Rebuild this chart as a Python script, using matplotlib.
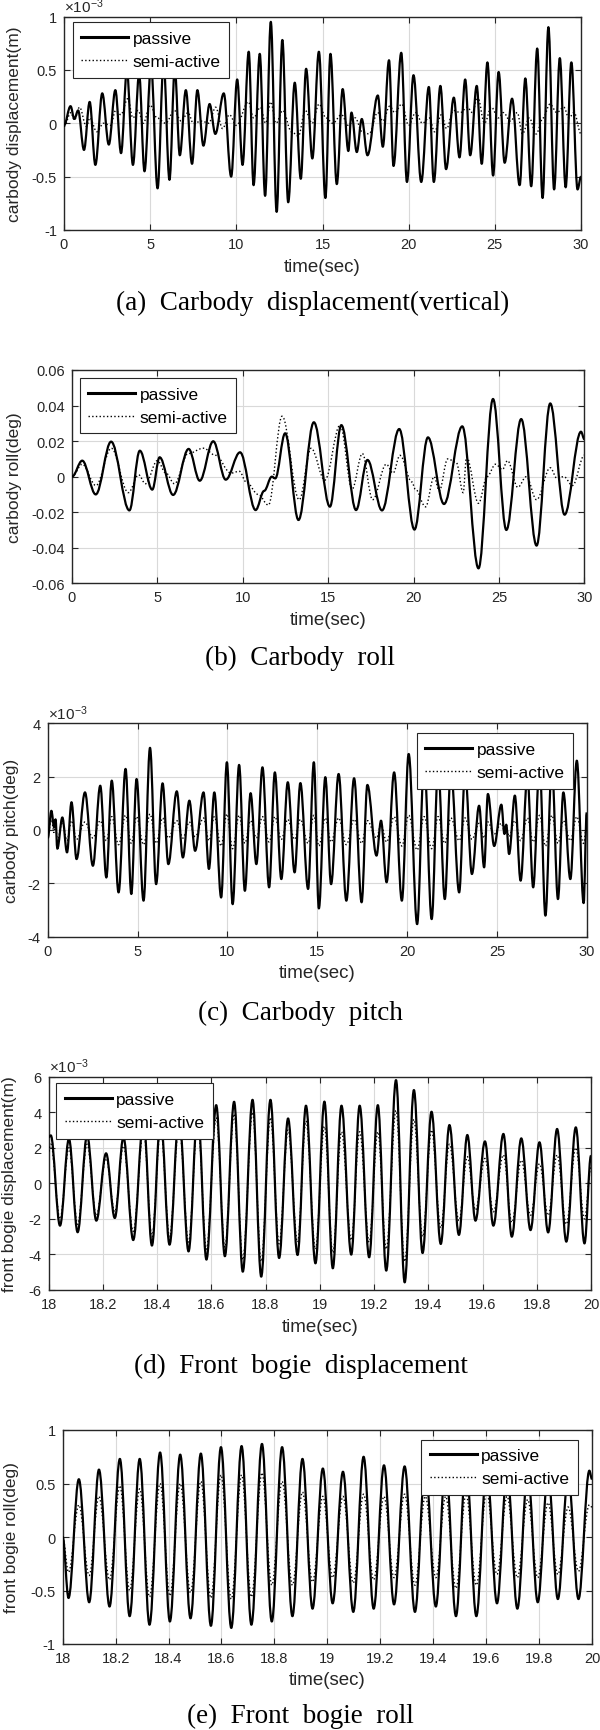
"""
Five stacked MATLAB-style time histories: passive vs semi-active suspension.
Series are the peak / trough points read off the reference figure; each trace
is drawn as a smooth path with flat tangents at those extremes.
"""
import matplotlib
matplotlib.use("Agg")
import matplotlib.pyplot as plt
from matplotlib.lines import Line2D
from matplotlib.patches import PathPatch
from matplotlib.path import Path

# ── (a) carbody vertical displacement, units of 1e-3 m ───────────────────
a_t_passive = [0.0, 0.38, 0.6, 0.82, 1.16, 1.49, 1.82, 2.22, 2.6, 2.98, 3.31, 3.65, 4.0, 4.36,
               4.67, 5.05, 5.43, 5.78, 6.12, 6.43, 6.72, 7.07, 7.43, 7.74, 8.09, 8.45, 8.78,
               9.27, 9.7, 10.05, 10.36, 10.72, 11.0, 11.36, 11.67, 12.0, 12.34, 12.67, 13.01,
               13.39, 13.74, 14.05, 14.41, 14.79, 15.17, 15.46, 15.83, 16.17, 16.5, 16.68,
               16.99, 17.28, 17.61, 18.21, 18.5, 18.86, 19.12, 19.57, 19.9, 20.28, 20.73,
               21.17, 21.46, 21.84, 22.17, 22.62, 22.95, 23.28, 23.57, 23.95, 24.24, 24.57,
               24.9, 25.22, 25.57, 26.0, 26.44, 26.77, 27.11, 27.46, 27.77, 28.11, 28.44,
               28.77, 29.11, 29.44, 29.8, 30.0]
a_passive = [-0.02, 0.16, 0.04, 0.12, -0.25, 0.2, -0.39, 0.28, -0.2, 0.31, -0.28, 0.49, -0.39,
             0.46, -0.45, 0.54, -0.61, 0.57, -0.53, 0.51, -0.3, 0.31, -0.38, 0.31, -0.21, 0.18,
             -0.1, 0.28, -0.5, 0.41, -0.39, 0.67, -0.58, 0.65, -0.68, 0.95, -0.83, 0.78, -0.74,
             0.38, -0.52, 0.51, -0.33, 0.67, -0.70, 0.65, -0.57, 0.32, -0.26, 0.1, -0.27, 0.04,
             -0.3, 0.26, -0.22, 0.59, -0.4, 0.66, -0.55, 0.45, -0.55, 0.34, -0.55, 0.35, -0.43,
             0.24, -0.32, 0.41, -0.3, 0.35, -0.38, 0.57, -0.49, 0.48, -0.37, 0.23, -0.58, 0.42,
             -0.59, 0.7, -0.7, 0.9, -0.62, 0.61, -0.6, 0.57, -0.62, -0.5]
a_t_semi = [0.0, 0.4, 0.6, 0.9, 1.3, 1.5, 1.9, 2.3, 2.7, 3.0, 3.3, 3.7, 4.0, 4.3, 4.6, 5.0, 5.4,
            5.9, 6.4, 6.8, 7.2, 7.5, 8.0, 8.4, 8.8, 9.2, 9.6, 10.0, 10.7, 11.0, 11.4, 11.7, 12.0,
            12.3, 12.7, 13.2, 13.6, 14.0, 14.4, 14.8, 15.2, 15.6, 16.1, 16.5, 16.9, 17.3, 17.7,
            18.2, 18.5, 18.9, 19.2, 19.6, 20.0, 20.4, 20.8, 21.2, 21.5, 21.9, 22.2, 22.6, 23.0,
            23.4, 23.7, 24.0, 24.4, 24.8, 25.2, 25.5, 25.9, 26.3, 26.6, 27.0, 27.4, 27.8, 28.2,
            28.6, 29.0, 29.3, 29.6, 30.0]
a_semi = [-0.03, 0.1, 0.03, 0.15, -0.03, 0.05, -0.08, 0.0, -0.02, 0.12, 0.08, 0.23, 0.05, 0.12,
          0.0, 0.17, 0.05, 0.0, 0.12, 0.02, 0.1, 0.0, 0.02, 0.0, 0.15, -0.05, 0.08, -0.02, 0.2,
          0.05, 0.15, 0.0, 0.2, 0.0, 0.12, -0.08, -0.12, 0.12, 0.0, 0.18, 0.05, 0.0, 0.08, -0.02,
          0.05, -0.08, -0.1, 0.1, 0.02, 0.16, 0.1, 0.18, -0.02, 0.1, 0.0, 0.05, -0.08, 0.08,
          -0.05, 0.12, 0.1, 0.15, 0.1, 0.25, 0.0, 0.15, 0.05, 0.1, 0.02, 0.1, -0.1, 0.05, -0.1,
          0.05, 0.18, 0.1, 0.15, 0.05, 0.1, -0.1]

# ── (b) carbody roll, deg ─────────────────────────────────────────────────
b_t_passive = [0.0, 0.6, 1.39, 2.29, 3.36, 3.97, 4.7, 5.13, 5.92, 6.83, 7.48, 8.27, 9.0, 9.84,
               10.75, 11.25, 11.7, 11.9, 12.48, 13.26, 14.16, 15.1, 15.77, 16.63, 17.3, 18.15,
               19.16, 20.05, 20.84, 21.78, 22.85, 23.8, 24.65, 25.43, 26.3, 27.2, 28.0, 28.84,
               29.8, 30.0]
b_passive = [0.0, 0.009, -0.010, 0.0197, -0.019, 0.0146, -0.0073, 0.0109, -0.0103, 0.0156,
             -0.0023, 0.0199, -0.0017, 0.0137, -0.0188, -0.008, 0.0, -0.001, 0.0244, -0.0244,
             0.0306, -0.0169, 0.029, -0.0188, 0.0094, -0.019, 0.0268, -0.0298, 0.0221, -0.0154,
             0.0283, -0.0516, 0.0437, -0.030, 0.0324, -0.0388, 0.0412, -0.0214, 0.0253, 0.021]
b_t_semi = [0.0, 0.6, 1.4, 2.3, 3.3, 3.9, 4.3, 5.0, 5.5, 6.0, 6.8, 7.7, 8.4, 9.3, 9.8, 10.2,
            10.9, 11.5, 12.3, 13.3, 14.0, 14.8, 15.7, 16.4, 17.0, 17.6, 18.4, 18.8, 19.2, 19.9,
            20.1, 20.7, 21.2, 21.5, 22.0, 22.5, 22.9, 23.1, 23.8, 24.3, 24.8, 25.2, 25.5, 26.1,
            26.6, 27.2, 28.0, 28.4, 28.8, 29.3, 30.0]
b_semi = [0.0, 0.007, -0.005, 0.016, -0.009, 0.001, -0.004, 0.009, 0.002, -0.004, 0.013, 0.016,
          0.012, 0.002, 0.003, -0.003, -0.010, -0.016, 0.034, -0.013, 0.016, -0.002, 0.029,
          -0.007, 0.013, -0.013, 0.007, 0.002, 0.012, -0.003, -0.007, -0.017, 0.0, -0.008,
          0.010, 0.008, -0.009, 0.011, -0.015, 0.0, 0.007, 0.004, 0.009, -0.006, 0.0, -0.013,
          0.005, -0.001, 0.0, -0.005, 0.012]

# ── (c) carbody pitch, units of 1e-3 deg ─────────────────────────────────
c_t = [0.0, 0.2, 0.35, 0.43, 0.53, 0.81, 1.07, 1.32, 1.6, 2.07, 2.51, 2.92, 3.26, 3.56, 3.94,
       4.33, 4.65, 4.94, 5.33, 5.69, 6.03, 6.39, 6.71, 7.18, 7.52, 7.88, 8.2, 8.67, 8.97, 9.27,
       9.65, 9.97, 10.29, 10.65, 10.97, 11.29, 11.61, 11.95, 12.32, 12.64, 13.0, 13.36, 13.74,
       14.06, 14.49, 14.81, 15.09, 15.45, 15.77, 16.19, 16.62, 17.05, 17.47, 17.79, 18.3, 18.55,
       18.86, 19.28, 19.71, 20.09, 20.56, 20.95, 21.37, 21.73, 22.1, 22.44, 22.9, 23.23, 23.61,
       24.01, 24.29, 24.5, 24.85, 25.25, 25.42, 25.52, 25.68, 26.0, 26.32, 26.7, 27.02, 27.38,
       27.7, 28.06, 28.4, 28.7, 29.09, 29.45, 29.83, 30.0]
c_passive = [-0.3, 0.72, 0.1, 0.4, -0.7, 0.47, -0.84, 1.04, -1.09, 1.41, -1.34, 1.66, -1.78,
             1.85, -2.34, 2.29, -2.4, 1.91, -2.65, 3.08, -2.03, 1.75, -1.28, 1.45, -1.03, 1.1,
             -0.78, 1.41, -1.46, 1.41, -2.53, 2.54, -2.78, 2.44, -2.28, 1.38, -1.28, 2.35, -2.15,
             2.16, -1.84, 1.79, -1.59, 1.76, -2.21, 2.54, -2.94, 1.98, -2.03, 2.1, -2.65, 1.94,
             -2.71, 1.69, -0.96, 0.35, -1.96, 2.16, -2.65, 2.85, -3.53, 2.6, -3.34, 2.4, -2.59,
             2.3, -2.34, 2.2, -1.65, 0.91, -1.4, 1.35, -0.6, 0.95, -0.15, 0.2, -0.9, 1.29, -1.9,
             2.04, -2.15, 2.54, -3.21, 2.48, -2.59, 1.41, -1.84, 2.6, -2.74, 0.66]
c_semi = [-0.2, 0.4, -0.1, 0.3, -0.4, 0.3, -0.4, 0.35, -0.35, 0.3, -0.3, 0.35, -0.4, 0.5, -0.55,
          0.55, -0.5, 0.5, -0.55, 0.6, -0.5, 0.45, -0.3, 0.35, -0.3, 0.3, -0.25, 0.45, -0.4, 0.5,
          -0.6, 0.6, -0.7, 0.55, -0.5, 0.35, -0.3, 0.5, -0.45, 0.5, -0.35, 0.4, -0.35, 0.4, -0.5,
          0.55, -0.6, 0.45, -0.45, 0.45, -0.55, 0.4, -0.5, 0.35, -0.3, 0.2, -0.45, 0.5, -0.6,
          0.55, -0.75, 0.5, -0.7, 0.5, -0.5, 0.45, -0.4, 0.45, -0.35, 0.25, -0.3, 0.3, -0.15,
          0.25, -0.05, 0.1, -0.25, 0.35, -0.4, 0.45, -0.45, 0.55, -0.6, 0.55, -0.5, 0.35, -0.4,
          0.5, -0.5, 0.2]

# ── (d) front bogie displacement, units of 1e-3 m ────────────────────────
d_t = [18.0, 18.008, 18.042, 18.075, 18.107, 18.142, 18.176, 18.212, 18.244, 18.276, 18.312,
       18.35, 18.381, 18.413, 18.446, 18.481, 18.516, 18.55, 18.582, 18.618, 18.65, 18.684,
       18.716, 18.752, 18.784, 18.818, 18.85, 18.883, 18.918, 18.949, 18.984, 19.017, 19.048,
       19.08, 19.116, 19.147, 19.182, 19.214, 19.245, 19.281, 19.313, 19.347, 19.379, 19.412,
       19.446, 19.478, 19.513, 19.544, 19.574, 19.609, 19.64, 19.677, 19.708, 19.743, 19.777,
       19.81, 19.842, 19.875, 19.909, 19.944, 19.976, 20.0]
d_passive = [2.6, 2.7, -2.38, 2.5, -2.75, 2.7, -2.1, 1.69, -1.95, 2.59, -3.19, 3.6, -3.5, 3.7,
             -3.45, 3.9, -3.83, 4.1, -4.29, 4.4, -4.1, 4.59, -4.97, 4.7, -5.25, 4.7, -4.2, 3.65,
             -4.03, 4.37, -4.5, 4.6, -4.78, 4.37, -4.01, 4.37, -4.16, 4.4, -4.91, 5.81, -5.57,
             5.25, -3.92, 4.03, -3.41, 3.28, -2.9, 2.72, -2.1, 2.36, -2.38, 2.78, -3.0, 2.53,
             -2.63, 2.31, -2.76, 3.06, -3.28, 3.15, -3.38, 1.56]
d_semi = [1.8, 2.2, -2.0, 2.0, -2.3, 2.2, -1.8, 1.4, -1.6, 2.1, -2.7, 3.0, -3.0, 3.1, -3.0, 3.3,
          -3.3, 3.5, -3.7, 3.7, -3.6, 3.9, -4.3, 4.0, -4.4, 3.7, -3.4, 3.0, -3.3, 3.5, -3.7, 3.2,
          -3.9, 2.9, -3.2, 2.9, -3.3, 2.9, -3.7, 4.1, -4.4, 3.6, -3.0, 3.0, -2.5, 2.2, -2.1, 1.5,
          -1.5, 1.4, -1.6, 1.6, -2.2, 1.3, -1.8, 1.1, -1.8, 1.6, -2.3, 2.0, -2.0, 0.9]

# ── (e) front bogie roll, deg ─────────────────────────────────────────────
e_t = [18.0, 18.022, 18.061, 18.1, 18.137, 18.177, 18.216, 18.253, 18.291, 18.328, 18.368,
       18.405, 18.444, 18.483, 18.522, 18.56, 18.598, 18.637, 18.676, 18.713, 18.753, 18.79,
       18.829, 18.868, 18.906, 18.944, 18.983, 19.02, 19.059, 19.098, 19.137, 19.175, 19.214,
       19.252, 19.292, 19.331, 19.37, 19.41, 19.447, 19.486, 19.524, 19.563, 19.602, 19.641,
       19.679, 19.718, 19.757, 19.795, 19.834, 19.871, 19.91, 19.949, 19.99, 20.0]
e_passive = [0.0, -0.57, 0.54, -0.61, 0.63, -0.65, 0.73, -0.74, 0.73, -0.82, 0.79, -0.79, 0.77,
             -0.76, 0.78, -0.83, 0.84, -0.85, 0.85, -0.82, 0.87, -0.79, 0.84, -0.74, 0.73, -0.67,
             0.64, -0.62, 0.61, -0.70, 0.75, -0.67, 0.67, -0.63, 0.66, -0.70, 0.68, -0.65, 0.7,
             -0.74, 0.7, -0.74, 0.66, -0.62, 0.62, -0.67, 0.62, -0.61, 0.6, -0.58, 0.58, -0.58,
             0.62, 0.54]
e_semi = [0.0, -0.33, 0.3, -0.36, 0.38, -0.4, 0.48, -0.5, 0.45, -0.56, 0.5, -0.55, 0.5, -0.52,
          0.52, -0.57, 0.58, -0.58, 0.58, -0.56, 0.6, -0.45, 0.52, -0.45, 0.42, -0.42, 0.38,
          -0.38, 0.38, -0.43, 0.4, -0.4, 0.38, -0.38, 0.4, -0.45, 0.38, -0.38, 0.38, -0.48, 0.4,
          -0.45, 0.42, -0.35, 0.38, -0.38, 0.35, -0.38, 0.32, -0.35, 0.28, -0.32, 0.3, 0.28]

# ── axis ticks ───────────────────────────────────────────────────────────
ticks_30s = [0, 5, 10, 15, 20, 25, 30]
ticks_2s = [18, 18.2, 18.4, 18.6, 18.8, 19, 19.2, 19.4, 19.6, 19.8, 20]

W, H = 600, 1731
INK = "#262626"

plt.rcParams.update({
    "font.family": ["Liberation Sans", "DejaVu Sans"],
    "axes.unicode_minus": False,
    "mathtext.fontset": "custom",
    "mathtext.rm": "Liberation Sans",
    "mathtext.it": "Liberation Sans:italic",
    "mathtext.bf": "Liberation Sans:bold",
})

fig = plt.figure(figsize=(W / 100, H / 100), dpi=100)


def extrema_path(t, v, k=0.36):
    # cubic segments between successive extremes, flat tangent at each one
    verts = [(t[0], v[0])]
    codes = [Path.MOVETO]
    for i in range(1, len(t)):
        dt = t[i] - t[i - 1]
        verts += [(t[i - 1] + k * dt, v[i - 1]), (t[i] - k * dt, v[i]), (t[i], v[i])]
        codes += [Path.CURVE4] * 3
    return Path(verts, codes)


def panel(box, t_p, v_p, t_s, v_s, xlim, xticks, ylim, yticks, ylabel, ylabel_x,
          leg_loc, leg_anchor, caption, cap_x, cap_y, exponent=False):
    left, top, right, bottom = box
    ax = fig.add_axes([left / W, 1 - bottom / H, (right - left) / W, (bottom - top) / H])

    ax.add_patch(PathPatch(extrema_path(t_p, v_p), fill=False, edgecolor="black",
                           lw=1.6, joinstyle="round", zorder=3))
    ax.add_patch(PathPatch(extrema_path(t_s, v_s), fill=False, edgecolor="black",
                           lw=1.0, ls=":", zorder=4))

    ax.set_xlim(*xlim)
    ax.set_ylim(*ylim)
    ax.set_xticks(xticks, labels=[f"{v:g}" for v in xticks])
    ax.set_yticks(yticks, labels=[f"{v:g}" for v in yticks])
    ax.tick_params(direction="in", length=4, width=0.8, colors=INK, labelsize=10.5,
                   top=True, right=True, pad=5)
    for s in ax.spines.values():
        s.set_color(INK)
        s.set_linewidth(1.0)
    ax.grid(color="#d9d9d9", linewidth=0.8, zorder=0)
    ax.set_axisbelow(True)

    if exponent:
        ax.text(0.0, 1.008, r"$\times10^{-3}$", transform=ax.transAxes, ha="left",
                va="bottom", fontsize=11, color=INK)

    handles = [Line2D([], [], color="black", lw=2.2),
               Line2D([], [], color="black", lw=1.0, ls=":")]
    leg = ax.legend(handles, ["passive", "semi-active"], loc=leg_loc,
                    bbox_to_anchor=leg_anchor, borderaxespad=0, fontsize=12.5,
                    handlelength=2.7, handletextpad=0.25, labelspacing=0.45,
                    borderpad=0.5, fancybox=False, framealpha=1)
    leg.get_frame().set_edgecolor(INK)
    leg.get_frame().set_linewidth(0.8)

    mid_y = (top + bottom) / 2
    fig.text(ylabel_x / W, 1 - mid_y / H, ylabel, rotation=90, ha="center", va="center",
             fontsize=12.5, color=INK)
    fig.text((left + right) / 2 / W, 1 - (bottom + 36) / H, "time(sec)", ha="center",
             va="center", fontsize=13.5, color=INK)
    fig.text(cap_x / W, 1 - cap_y / H, caption, ha="center", va="center", fontsize=19.5,
             family=["Liberation Serif", "DejaVu Serif"], color="black")
    return ax


panel((64, 17.5, 581, 231), a_t_passive, a_passive, a_t_semi, a_semi,
      (0, 30), ticks_30s, (-1, 1), [-1, -0.5, 0, 0.5, 1],
      "carbody displacement(m)", 15, "upper left", (0.017, 0.974),
      "(a)  Carbody  displacement(vertical)", 313, 303, exponent=True)

panel((72, 371, 584.4, 584.3), b_t_passive, b_passive, b_t_semi, b_semi,
      (0, 30), ticks_30s, (-0.06, 0.06), [-0.06, -0.04, -0.02, 0, 0.02, 0.04, 0.06],
      "carbody roll(deg)", 15, "upper left", (0.015, 0.9625),
      "(b)  Carbody  roll", 300, 658)

panel((47.8, 724.3, 586.7, 937.7), c_t, c_passive, c_t, c_semi,
      (0, 30), ticks_30s, (-4, 4), [-4, -2, 0, 2, 4],
      "carbody pitch(deg)", 11.5, "upper right", (0.975, 0.953),
      "(c)  Carbody  pitch", 300, 1013, exponent=True)

panel((48.6, 1077.7, 591, 1291), d_t, d_passive, d_t, d_semi,
      (18, 20), ticks_2s, (-6, 6), [-6, -4, -2, 0, 2, 4, 6],
      "front bogie displacement(m)", 10, "upper left", (0.0142, 0.969),
      "(d)  Front  bogie  displacement", 301, 1366, exponent=True)

panel((62.7, 1431, 592, 1645), e_t, e_passive, e_t, e_semi,
      (18, 20), ticks_2s, (-1, 1), [-1, -0.5, 0, 0.5, 1],
      "front bogie roll(deg)", 12, "upper right", (0.9735, 0.955),
      "(e)  Front  bogie  roll", 300, 1716)

fig.savefig("out.png", dpi=100)
plt.close(fig)
